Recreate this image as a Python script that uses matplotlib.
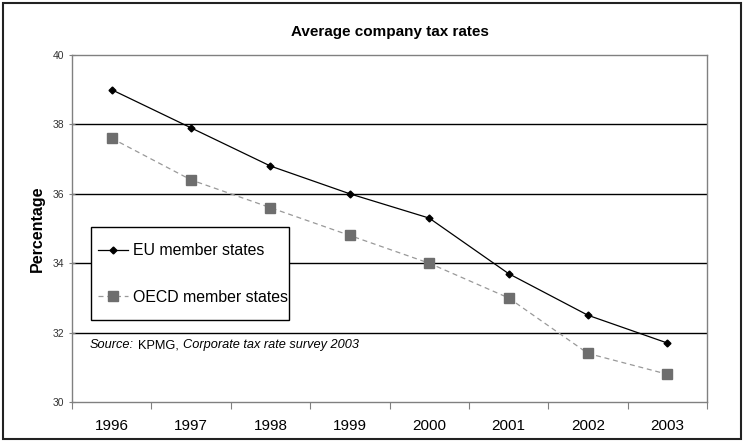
import matplotlib.pyplot as plt
from matplotlib.patches import Rectangle

plt.rcParams['font.family'] = ['Liberation Sans', 'DejaVu Sans']

years = ['1996', '1997', '1998', '1999', '2000', '2001', '2002', '2003']
eu_rates = [39.0, 37.9, 36.8, 36.0, 35.3, 33.7, 32.5, 31.7]
oecd_rates = [37.6, 36.4, 35.6, 34.8, 34.0, 33.0, 31.4, 30.8]
y_ticks = [30, 32, 34, 36, 38, 40]

fig = plt.figure(figsize=(7.45, 4.42), dpi=100)
ax = fig.add_axes([72 / 745, 40 / 442, 635 / 745, 347 / 442])

x = list(range(len(years)))
ax.plot(x, eu_rates, color='black', lw=0.9, marker='D', ms=3.5,
        label='EU member states', zorder=4)
ax.plot(x, oecd_rates, color='#999999', lw=0.9, ls=(0, (4, 3)), marker='s', ms=6.5,
        mfc='#6e6e6e', mec='#6e6e6e', label='OECD member states', zorder=3)

ax.set_xlim(-0.5, len(years) - 0.5)
ax.set_ylim(30, 40)
ax.set_yticks(y_ticks)
ax.set_yticklabels([str(t) for t in y_ticks], fontsize=7.5, color='#333333')
for t in y_ticks[1:-1]:
    ax.axhline(t, color='black', lw=1, zorder=1)

# category boundaries get the tick marks, labels sit in between
ax.set_xticks([i - 0.5 for i in range(len(years) + 1)])
ax.set_xticklabels([])
ax.set_xticks(x, minor=True)
ax.set_xticklabels(years, minor=True, fontsize=11)
ax.tick_params(axis='x', which='minor', length=0, pad=12)
ax.tick_params(axis='x', which='major', length=5, color='#808080', direction='out')
ax.tick_params(axis='y', length=5, color='#808080', direction='inout', pad=3)

for side in ['top', 'right', 'left', 'bottom']:
    ax.spines[side].set_color('#808080')
    ax.spines[side].set_linewidth(1)

ax.set_ylabel('Percentage', fontsize=11.5, fontweight='bold', labelpad=6)
ax.set_title('Average company tax rates', fontsize=11, fontweight='bold', pad=14)

# legend box drawn separately so its padding can be set freely
ax.add_patch(Rectangle((19 / 635, 82 / 347), 198 / 635, 93 / 347,
                       transform=ax.transAxes, facecolor='white',
                       edgecolor='black', lw=1, zorder=5))
leg = ax.legend(loc='center left', bbox_to_anchor=(26 / 635, 128 / 347), fontsize=11.4,
                frameon=False, handlelength=1.9, handletextpad=0.3, labelspacing=2.0,
                borderpad=0, borderaxespad=0)
leg.set_zorder(6)

src_y = 57 / 347
src1 = ax.text(18 / 635, src_y, 'Source:', transform=ax.transAxes,
               fontsize=9.2, style='italic', va='center', zorder=6)
fig.canvas.draw()
inv = ax.transAxes.inverted()
bb = src1.get_window_extent()
x1 = inv.transform((bb.x1 + 4, 0))[0]
src2 = ax.text(x1, src_y, 'KPMG,', transform=ax.transAxes, fontsize=9.2, va='center', zorder=6)
fig.canvas.draw()
bb = src2.get_window_extent()
x2 = inv.transform((bb.x1 + 4, 0))[0]
ax.text(x2, src_y, 'Corporate tax rate survey 2003', transform=ax.transAxes,
        fontsize=9.2, style='italic', va='center', zorder=6)

fig.patches.append(Rectangle((3 / 745, 3 / 442), 738 / 745, 436 / 442,
                             transform=fig.transFigure, fill=False,
                             edgecolor='#222222', lw=1.5))

fig.savefig('out.png', dpi=100)
